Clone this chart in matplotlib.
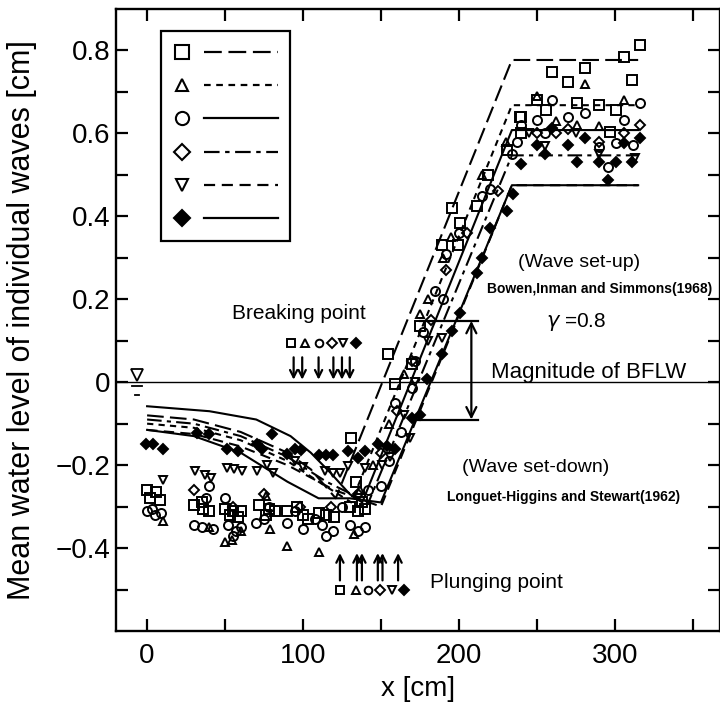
import matplotlib
matplotlib.use('Agg')
import matplotlib.pyplot as plt
from matplotlib.lines import Line2D
from matplotlib.legend_handler import HandlerBase
from matplotlib.ticker import FixedLocator, FuncFormatter

plt.rcParams['font.family'] = ['Liberation Sans', 'DejaVu Sans']

# ---------------- data ----------------
sq_x = [0, 6, 2, 8, 30, 35, 40, 36, 50, 55, 60, 53, 58, 72, 78, 82, 76, 90, 96, 100, 103, 110, 115, 120,
        130, 135, 140, 138, 131, 134, 154.5, 159, 170, 175, 189, 195.5, 200.6, 199.4, 211.5, 218.6, 230.7, 239,
        316, 306, 281, 260, 270, 311, 250, 275.6, 290, 301, 256, 240, 297, 240]
sq_y = [-0.26, -0.265, -0.28, -0.285, -0.295, -0.29, -0.31, -0.305, -0.305, -0.31, -0.31, -0.32, -0.325,
        -0.295, -0.305, -0.31, -0.32, -0.31, -0.30, -0.32, -0.33, -0.315, -0.32, -0.325, -0.30, -0.31, -0.305,
        -0.29, -0.135, -0.24, 0.068, -0.005, 0.044, 0.136, 0.33, 0.42, 0.385, 0.33, 0.426, 0.50, 0.56, 0.64,
        0.814, 0.784, 0.758, 0.748, 0.724, 0.729, 0.68, 0.673, 0.668, 0.656, 0.656, 0.64, 0.603, 0.60]

tr_x = [10, 40, 50, 54.5, 60, 76, 79, 90, 110, 133, 136.5, 145, 155, 165, 175, 180, 190, 195, 215, 230,
        281, 250, 306, 275.6, 290, 262]
tr_y = [-0.335, -0.35, -0.385, -0.38, -0.36, -0.275, -0.355, -0.395, -0.41, -0.365, -0.26, -0.2, -0.1, 0.02,
        0.165, 0.2, 0.3, 0.35, 0.5, 0.58, 0.72, 0.69, 0.68, 0.62, 0.617, 0.63]

ci_x = [0, 5, 9, 3, 40, 30, 35, 42, 38, 50, 52, 57, 60, 55, 70, 78, 75, 90, 95, 100, 108, 115, 119, 112,
        130, 135, 140, 125, 142, 150, 155, 159, 163, 170, 172, 177, 185, 190, 192, 200, 214.7, 220, 234, 237,
        260, 281, 316, 270, 306, 250, 255, 301, 290, 295.5, 311.5, 240]
ci_y = [-0.31, -0.32, -0.315, -0.305, -0.25, -0.345, -0.35, -0.355, -0.28, -0.28, -0.345, -0.36, -0.35, -0.37,
        -0.34, -0.30, -0.33, -0.34, -0.31, -0.355, -0.33, -0.37, -0.36, -0.345, -0.345, -0.36, -0.35, -0.30,
        -0.26, -0.25, -0.19, -0.05, -0.12, -0.015, 0.05, 0.12, 0.22, 0.2, 0.31, 0.36, 0.45, 0.467, 0.55, 0.58,
        0.68, 0.65, 0.673, 0.64, 0.632, 0.632, 0.60, 0.576, 0.567, 0.52, 0.571, 0.62]

od_x = [30, 55, 75, 98, 118, 135, 150, 160, 170, 182, 192, 205, 225, 250, 270, 290, 316, 306, 262]
od_y = [-0.26, -0.30, -0.27, -0.30, -0.30, -0.27, -0.17, -0.07, 0.05, 0.15, 0.27, 0.36, 0.46,
        0.60, 0.61, 0.58, 0.62, 0.60, 0.60]

it_x = [10, 31, 37, 41, 51, 56, 61, 70.5, 77, 81, 95, 100, 114, 119, 124, 129, 140, 151, 156,
        165, 168.6, 172, 180, 189, 313, 290, 275, 255, 245]
it_y = [-0.235, -0.215, -0.225, -0.232, -0.208, -0.21, -0.215, -0.215, -0.20, -0.22, -0.19, -0.205, -0.215,
        -0.22, -0.22, -0.203, -0.208, -0.20, -0.18, -0.08, -0.135, 0.0, 0.10, 0.107, 0.54, 0.55, 0.60, 0.57, 0.60]

fd_x = [-1, 4, 10, 32, 40, 51, 58, 70.5, 74, 80, 90, 95, 99, 110, 115, 119, 129, 135, 140, 148, 154, 159,
        170, 175, 179.5, 189, 195.5, 200.6, 211.5, 215, 220, 230.8, 234.6, 260, 281, 316, 250, 270, 306, 255,
        240, 275.6, 290, 301, 311, 295.5]
fd_y = [-0.15, -0.148, -0.162, -0.123, -0.126, -0.162, -0.167, -0.148, -0.162, -0.126, -0.172, -0.16, -0.163,
        -0.175, -0.175, -0.175, -0.167, -0.184, -0.167, -0.148, -0.155, -0.16, -0.087, -0.08, 0.007, 0.068,
        0.123, 0.167, 0.264, 0.30, 0.373, 0.414, 0.455, 0.612, 0.59, 0.59, 0.571, 0.571, 0.576, 0.55, 0.527,
        0.53, 0.53, 0.53, 0.53, 0.487]

# theoretical curves (set-down, then set-up)
l1_x = [0, 30, 60, 90, 105, 121, 234, 315]
l1_y = [-0.08, -0.09, -0.12, -0.17, -0.21, -0.28, 0.777, 0.777]
l2_x = [0, 30, 60, 90, 110, 131, 234, 315]
l2_y = [-0.10, -0.11, -0.14, -0.19, -0.24, -0.29, 0.668, 0.668]
l3_x = [0, 40, 70, 92, 105, 118, 130, 138, 234, 315]
l3_y = [-0.058, -0.07, -0.09, -0.13, -0.17, -0.22, -0.27, -0.29, 0.608, 0.608]
l4_x = [0, 30, 60, 90, 115, 142, 234, 315]
l4_y = [-0.09, -0.10, -0.13, -0.18, -0.24, -0.29, 0.547, 0.547]
l5_x = [0, 30, 60, 90, 120, 150, 234, 315]
l5_y = [-0.115, -0.125, -0.155, -0.2, -0.26, -0.30, 0.475, 0.475]
l6_x = [0, 30, 60, 90, 110, 130, 150, 234, 315]
l6_y = [-0.115, -0.13, -0.17, -0.24, -0.28, -0.28, -0.29, 0.475, 0.475]

# breaking / plunging points
break_arrow_x = [94, 99.5, 110, 119.5, 125, 130]
break_sym_x = [92, 101, 110, 118.6, 125.6, 134]
plunge_arrow_x = [123.7, 134.6, 137.8, 148, 151, 161]
plunge_sym_x = [123.7, 134, 141.7, 149.4, 157, 164.7]

# BFLW magnitude
bflw_top, bflw_bot, bflw_x = 0.148, -0.09, 208

x_ticks_major = [0, 100, 200, 300]
x_ticks_minor = [50, 150, 250, 350]
y_ticks_major = [-0.4, -0.2, 0.0, 0.2, 0.4, 0.6, 0.8]
y_ticks_minor = [-0.5, -0.3, -0.1, 0.1, 0.3, 0.5, 0.7]

# ---------------- styles ----------------
series = [
    dict(x=sq_x, y=sq_y, marker='s', ms=6.5, mfc='none', lx=l1_x, ly=l1_y, ls=(0, (8, 3))),
    dict(x=tr_x, y=tr_y, marker='^', ms=5.5, mfc='none', lx=l2_x, ly=l2_y, ls=(0, (3, 2.5))),
    dict(x=ci_x, y=ci_y, marker='o', ms=6.5, mfc='none', lx=l3_x, ly=l3_y, ls='-'),
    dict(x=od_x, y=od_y, marker='D', ms=5.5, mfc='none', lx=l4_x, ly=l4_y, ls=(0, (7, 2.5, 2, 2.5))),
    dict(x=it_x, y=it_y, marker='v', ms=5.5, mfc='none', lx=l5_x, ly=l5_y, ls=(0, (5, 3))),
    dict(x=fd_x, y=fd_y, marker='D', ms=5.5, mfc='black', lx=l6_x, ly=l6_y, ls='-'),
]

fig = plt.figure(figsize=(7.2, 7.07), dpi=100)
ax = fig.add_axes([0.161, 0.1075, 0.839, 0.8798])
ax.set_xlim(-20, 367.5)
ax.set_ylim(-0.6, 0.9)

ax.axhline(0, color='black', lw=1.0, zorder=1)

handles = []
for s in series:
    ax.plot(s['lx'], s['ly'], color='black', lw=1.5, linestyle=s['ls'], zorder=2)
    ax.plot(s['x'], s['y'], linestyle='none', marker=s['marker'], ms=s['ms'],
            mfc=s['mfc'], mec='black', mew=1.4, zorder=3)
    mk = Line2D([], [], linestyle='none', marker=s['marker'], ms=s['ms'] + 3,
                mfc=s['mfc'], mec='black', mew=1.5)
    ln = Line2D([], [], color='black', lw=1.6, linestyle=s['ls'])
    handles.append((mk, ln))

# breaking-point arrows and symbols
for xa in break_arrow_x:
    ax.annotate('', xy=(xa, 0.006), xytext=(xa, 0.06),
                arrowprops=dict(arrowstyle='->', lw=1.6, color='black', shrinkA=0, shrinkB=0,
                                mutation_scale=13))
for s, xs in zip(series, break_sym_x):
    ax.plot([xs], [0.095], linestyle='none', marker=s['marker'], ms=5.5, mfc=s['mfc'],
            mec='black', mew=1.4)
# plunging-point arrows and symbols
for xa in plunge_arrow_x:
    ax.annotate('', xy=(xa, -0.412), xytext=(xa, -0.478),
                arrowprops=dict(arrowstyle='->', lw=1.6, color='black', shrinkA=0, shrinkB=0,
                                mutation_scale=13))
for s, xs in zip(series, plunge_sym_x):
    ax.plot([xs], [-0.5], linestyle='none', marker=s['marker'], ms=5.5, mfc=s['mfc'],
            mec='black', mew=1.4)

# BFLW magnitude
ax.plot([175, 212], [bflw_top, bflw_top], color='black', lw=1.6)
ax.plot([169, 212], [bflw_bot, bflw_bot], color='black', lw=1.6)
ax.annotate('', xy=(bflw_x, bflw_bot), xytext=(bflw_x, bflw_top),
            arrowprops=dict(arrowstyle='<->', lw=1.6, color='black', shrinkA=0, shrinkB=0,
                            mutation_scale=18))

# still water level symbol
ax.plot([-6.4], [0.018], linestyle='none', marker='v', ms=9, mfc='white', mec='black', mew=1.3)
ax.plot([-9.5, -3.3], [-0.008, -0.008], color='black', lw=1.3)
ax.plot([-7.5, -5.3], [-0.03, -0.03], color='black', lw=1.3)

# texts
ax.text(97.4, 0.165, 'Breaking point', fontsize=15, ha='center', va='center')
ax.text(224.4, -0.482, 'Plunging point', fontsize=15, ha='center', va='center')
ax.text(277, 0.288, '(Wave set-up)', fontsize=14, ha='center', va='center')
ax.text(290, 0.225, 'Bowen,Inman and Simmons(1968)', fontsize=10, fontweight='bold',
        ha='center', va='center')
ax.text(275, 0.145, r'$\gamma$ =0.8', fontsize=15, ha='center', va='center')
ax.text(283, 0.024, 'Magnitude of BFLW', fontsize=16, ha='center', va='center')
ax.text(249, -0.206, '(Wave set-down)', fontsize=14, ha='center', va='center')
ax.text(267, -0.278, 'Longuet-Higgins and Stewart(1962)', fontsize=10, fontweight='bold',
        ha='center', va='center')


# legend (marker then line, no labels)
class MarkerLineHandler(HandlerBase):
    def create_artists(self, legend, orig_handle, xdescent, ydescent, width, height, fontsize, trans):
        mk, ln = orig_handle
        y = height / 2.0 - ydescent
        m = Line2D([-xdescent + 0.09 * width], [y])
        m.update_from(mk)
        m.set_linestyle('none')
        m.set_transform(trans)
        l = Line2D([-xdescent + 0.3 * width, -xdescent + width], [y, y])
        l.update_from(ln)
        l.set_marker('')
        l.set_transform(trans)
        return [m, l]


leg = ax.legend(handles, [''] * len(handles), handler_map={tuple: MarkerLineHandler()},
                loc='upper left', bbox_to_anchor=(0.0745, 0.965), fontsize=14,
                handlelength=5.4, handleheight=1.0, labelspacing=0.72, borderpad=0.62,
                handletextpad=0.0, borderaxespad=0, frameon=True, fancybox=False,
                edgecolor='black', framealpha=1)
leg.get_frame().set_linewidth(1.6)

# axes styling
for sp in ax.spines.values():
    sp.set_linewidth(1.7)
ax.xaxis.set_major_locator(FixedLocator(x_ticks_major))
ax.xaxis.set_minor_locator(FixedLocator(x_ticks_minor))
ax.yaxis.set_major_locator(FixedLocator(y_ticks_major))
ax.yaxis.set_minor_locator(FixedLocator(y_ticks_minor))


def yfmt(v, pos):
    if abs(v) < 1e-9:
        return '0'
    return f'{v:.1f}'.replace('-', '\u2212')


ax.yaxis.set_major_formatter(FuncFormatter(yfmt))
ax.tick_params(which='both', direction='in', top=True, right=True, length=8.5, width=1.6,
               labelsize=20)
ax.tick_params(axis='y', pad=4)
ax.tick_params(axis='x', pad=9)

ax.set_xlabel('x [cm]', fontsize=20)
ax.set_ylabel('Mean water level of individual waves [cm]', fontsize=22)
ax.xaxis.set_label_coords(0.5, -0.072)
ax.yaxis.set_label_coords(-0.13, 0.5)

fig.savefig('out.png', dpi=100)
